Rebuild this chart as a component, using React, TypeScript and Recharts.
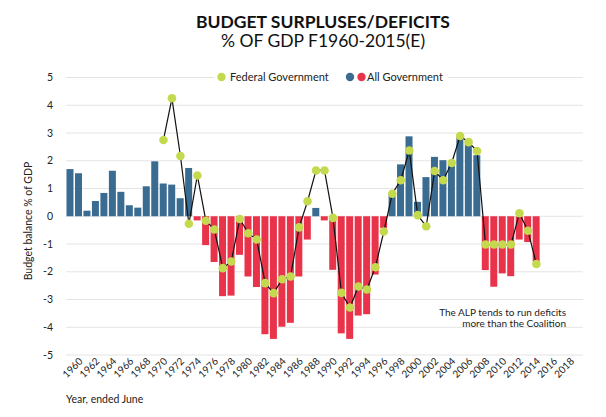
import React from "react";
import {
  Bar,
  CartesianGrid,
  Cell,
  ComposedChart,
  Line,
  XAxis,
  YAxis,
} from "recharts";

const YEARS = [
  1960, 1961, 1962, 1963, 1964, 1965, 1966, 1967, 1968, 1969,
  1970, 1971, 1972, 1973, 1974, 1975, 1976, 1977, 1978, 1979,
  1980, 1981, 1982, 1983, 1984, 1985, 1986, 1987, 1988, 1989,
  1990, 1991, 1992, 1993, 1994, 1995, 1996, 1997, 1998, 1999,
  2000, 2001, 2002, 2003, 2004, 2005, 2006, 2007, 2008, 2009,
  2010, 2011, 2012, 2013, 2014, 2015, 2016, 2017, 2018, 2019, 2020,
];

// All government balance, % of GDP, 1960-2015
const ALL_GOV = [
  1.7, 1.55, 0.2, 0.55, 0.84, 1.64, 0.88, 0.4, 0.31, 1.08,
  1.98, 1.18, 1.14, 0.65, 1.74, -0.15, -1.04, -1.65, -2.88, -2.86,
  -1.39, -2.17, -2.55, -4.25, -4.42, -3.98, -3.84, -2.17, -0.84, 0.3,
  -0.15, -1.93, -4.22, -4.42, -3.58, -3.53, -2.1, -0.42, 0.82, 1.87,
  2.88, 0.52, 1.41, 2.14, 2.02, 1.85, 2.85, 2.6, 2.2, -1.94,
  -2.54, -2.06, -2.16, -0.84, -0.93, -1.63,
];

// Federal government balance, % of GDP, 1971-2015
const FED_START = 1971;
const FEDERAL = [
  2.75, 4.25, 2.17, -0.27, 1.47, -0.16, -0.48, -1.87, -1.63,
  -0.1, -0.61, -0.84, -2.41, -2.77, -2.27, -2.17, -0.4, 0.54, 1.65,
  1.65, -0.06, -2.76, -3.29, -2.53, -2.64, -1.84, -0.55, 0.81, 1.3,
  2.37, 0.04, -0.36, 1.63, 1.3, 1.92, 2.89, 2.67, 2.35, -1.02,
  -1.02, -1.02, -1.02, 0.11, -0.52, -1.72,
];

const TICK_YEARS = [
  1960, 1962, 1964, 1966, 1968, 1970, 1972, 1974, 1976, 1978,
  1980, 1982, 1984, 1986, 1988, 1990, 1992, 1994, 1996, 1998,
  2000, 2002, 2004, 2006, 2008, 2010, 2012, 2014, 2016, 2018,
];
const Y_TICKS = [-5, -4, -3, -2, -1, 0, 1, 2, 3, 4, 5];

const BLUE = "#3a6b91";
const RED = "#e8334a";
const GREEN = "#c4d94e";
const FONT = "Lato, 'Open Sans', sans-serif";

const data = YEARS.map((year, i) => ({
  year,
  all: i < ALL_GOV.length ? ALL_GOV[i] : null,
  fed: year >= FED_START && year - FED_START < FEDERAL.length ? FEDERAL[year - FED_START] : null,
}));

function YearTick(props: any) {
  const { x, payload } = props;
  if (!TICK_YEARS.includes(payload.value)) return <g />;
  const tx = x + 13;
  const ty = 362;
  return (
    <text
      x={tx}
      y={ty}
      textAnchor="end"
      fontSize={10}
      fontFamily={FONT}
      fill="#222"
      transform={`rotate(-45, ${tx}, ${ty})`}
    >
      {payload.value}
    </text>
  );
}

function ValueTick(props: any) {
  const { y, payload } = props;
  return (
    <text x={53} y={y + 3.5} textAnchor="end" fontSize={10.5} fontFamily={FONT} fill="#222">
      {payload.value}
    </text>
  );
}

export default function App() {
  return (
    <div style={{ position: "absolute", left: 0, top: 0, width: 606, height: 417, background: "#fff" }}>
      <ComposedChart
        width={606}
        height={417}
        data={data}
        margin={{ top: 77.5, right: 23, bottom: 32, left: 46 }}
        barCategoryGap={0.5}
      >
        <CartesianGrid vertical={false} stroke="#e4e4e4" />
        <XAxis
          dataKey="year"
          type="category"
          height={30}
          interval={0}
          axisLine={false}
          tickLine={false}
          tickSize={0}
          tick={<YearTick />}
        />
        <YAxis
          width={20}
          domain={[-5, 5]}
          ticks={Y_TICKS}
          axisLine={false}
          tickLine={false}
          tick={<ValueTick />}
        />
        <Bar dataKey="all" name="All Government" isAnimationActive={false}>
          {data.map((d, i) => (
            <Cell key={`c-${i}`} fill={d.all !== null && d.all < 0 ? RED : BLUE} />
          ))}
        </Bar>
        <Line
          dataKey="fed"
          name="Federal Government"
          type="linear"
          stroke="#111"
          strokeWidth={1.2}
          dot={{ r: 4.3, fill: GREEN, stroke: "none" }}
          activeDot={false}
          isAnimationActive={false}
        />
      </ComposedChart>
      <svg
        width={606}
        height={417}
        style={{ position: "absolute", left: 0, top: 0, pointerEvents: "none" }}
      >
        <text x={323} y={27.5} textAnchor="middle" fontSize={17.5} fontWeight={700} fontFamily={FONT} fill="#111">
          BUDGET SURPLUSES/DEFICITS
        </text>
        <text x={323} y={47} textAnchor="middle" fontSize={17.5} fontFamily={FONT} fill="#111">
          % OF GDP F1960-2015(E)
        </text>
        <g transform="translate(214, 69)">
          <rect width={234} height={16} fill="#fff" />
          <circle cx={7.5} cy={8} r={4.2} fill={GREEN} />
          <text x={16} y={12} fontSize={11} fontFamily={FONT} fill="#222">
            Federal Government
          </text>
          <circle cx={136} cy={8} r={4.2} fill={BLUE} />
          <circle cx={147.5} cy={8} r={4.2} fill={RED} />
          <text x={153} y={12} fontSize={11} fontFamily={FONT} fill="#222">
            All Government
          </text>
        </g>
        <text
          x={0}
          y={0}
          transform="translate(32, 221) rotate(-90)"
          textAnchor="middle"
          fontSize={10.5}
          fontFamily={FONT}
          fill="#222"
        >
          Budget balance % of GDP
        </text>
        <text x={66} y={403} fontSize={10.5} fontFamily={FONT} fill="#222">
          Year, ended June
        </text>
        <text x={566} y={315.5} textAnchor="end" fontSize={10} fontFamily={FONT} fill="#222">
          The ALP tends to run deficits
        </text>
        <text x={566} y={326.5} textAnchor="end" fontSize={10} fontFamily={FONT} fill="#222">
          more than the Coalition
        </text>
      </svg>
    </div>
  );
}
